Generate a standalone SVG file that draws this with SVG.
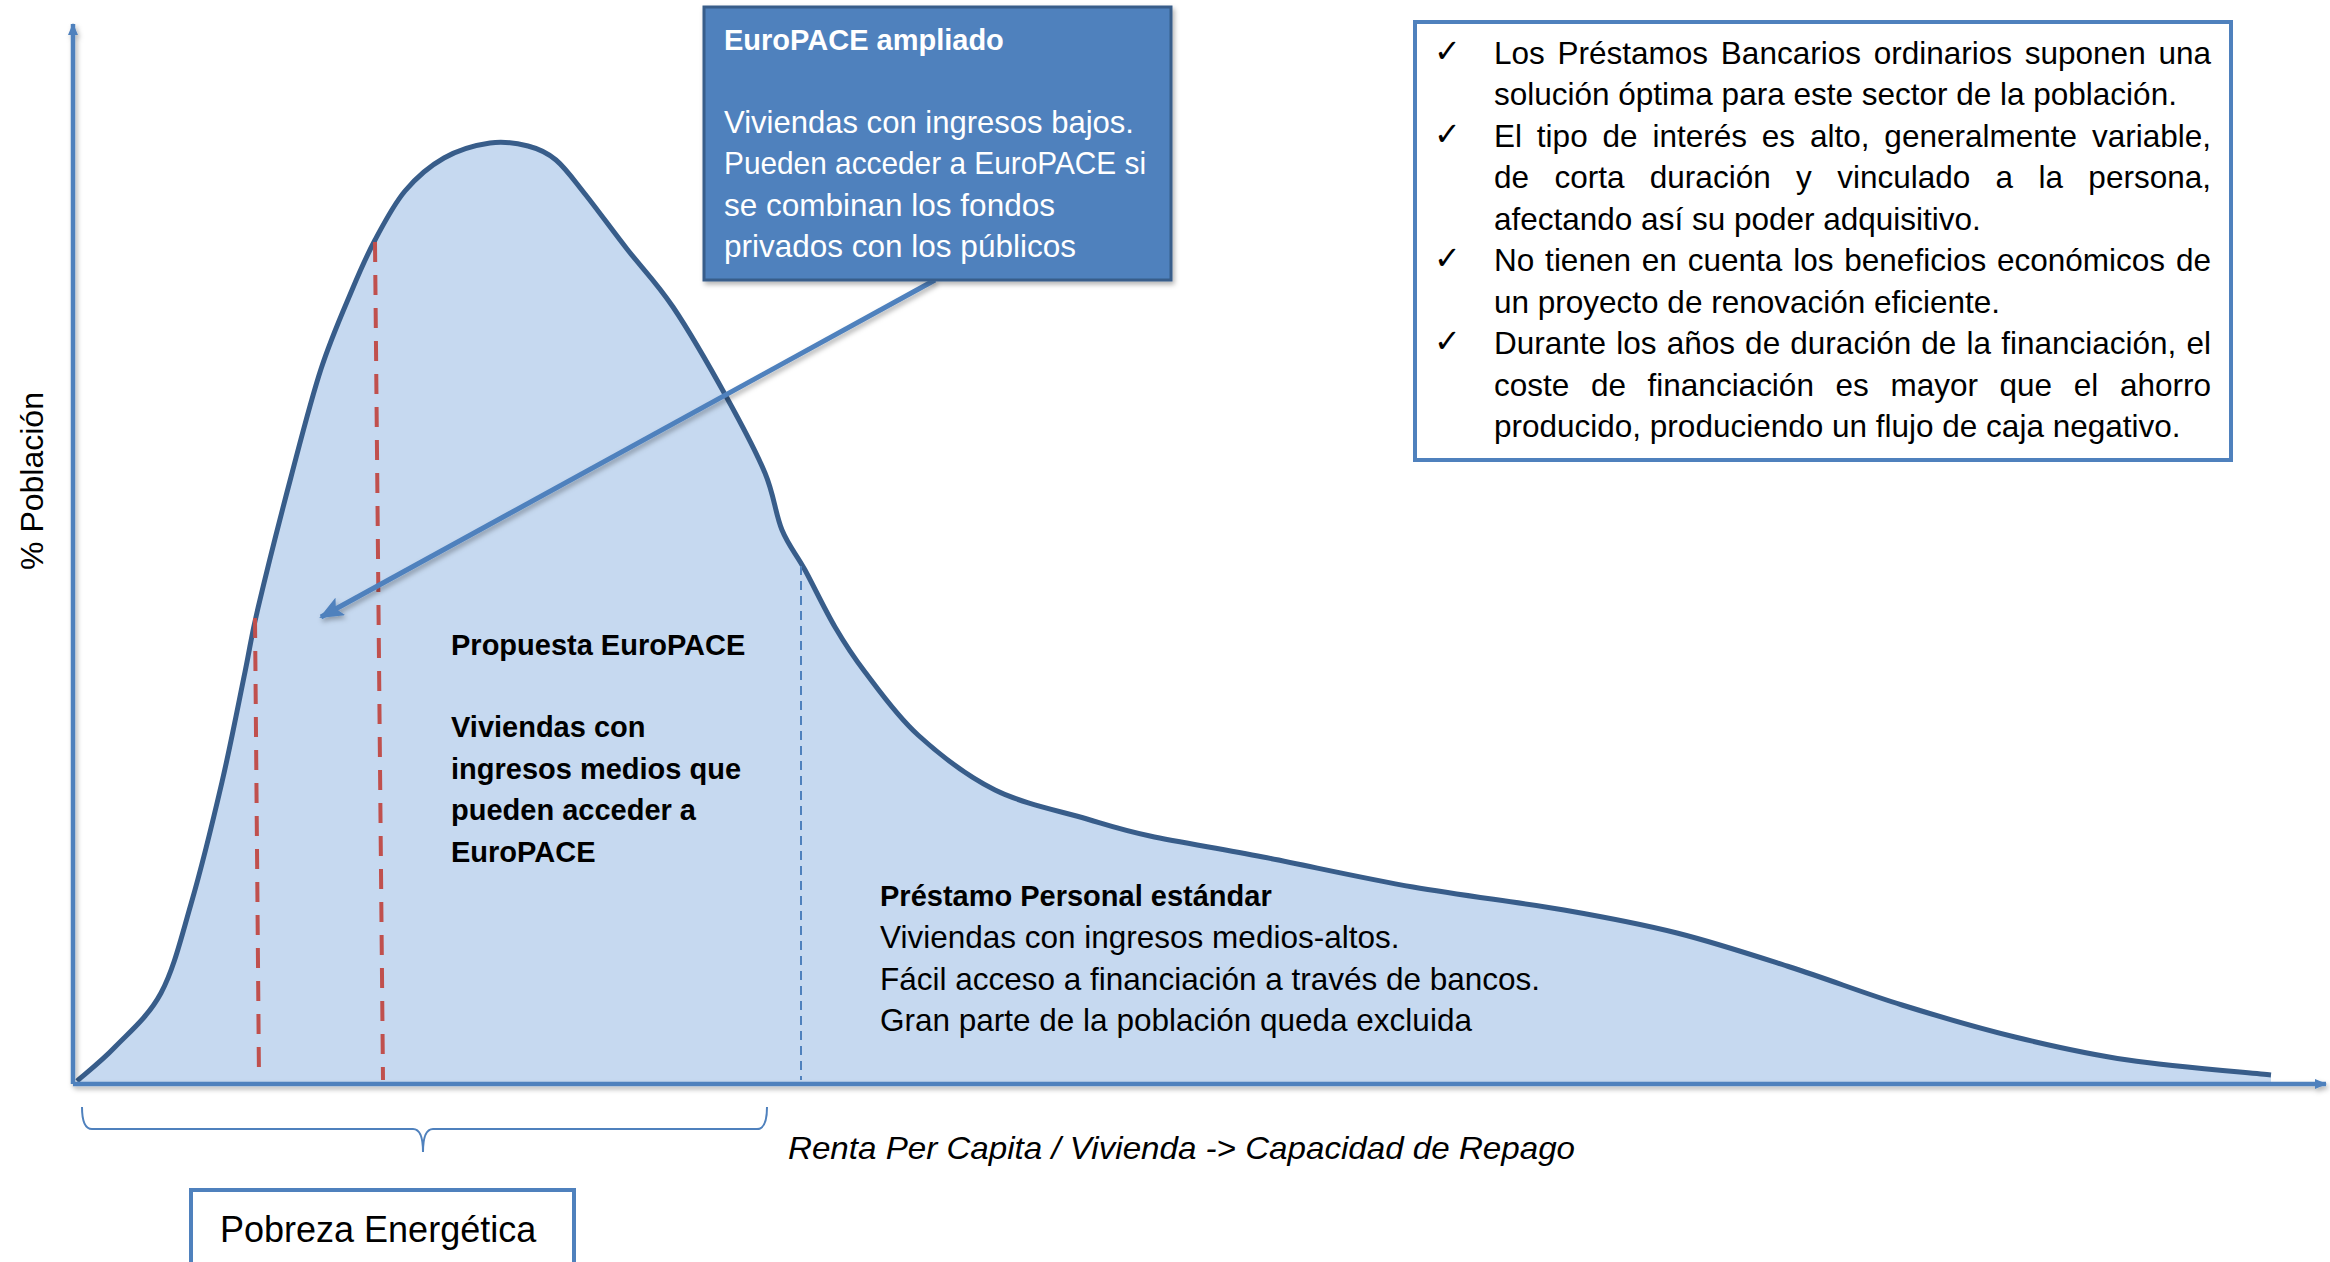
<svg xmlns="http://www.w3.org/2000/svg" width="2330" height="1262" viewBox="0 0 2330 1262">
<defs>
<style>
.t{font-family:"Liberation Sans",Arial,sans-serif;font-size:31.5px;fill:#000}
.b{font-family:"Liberation Sans",Arial,sans-serif;font-size:29px;font-weight:bold;fill:#000}
.w{fill:#fff}
.ax{stroke:#4F81BD;stroke-width:4.5;fill:none}
.chk{font-family:"DejaVu Sans",sans-serif;font-size:32px;fill:#000}
</style>
<filter id="sh" x="-5%" y="-5%" width="110%" height="115%">
<feDropShadow dx="2" dy="3" stdDeviation="2.5" flood-color="#000" flood-opacity="0.3"/>
</filter>
<marker id="ah" markerWidth="12" markerHeight="10" refX="11" refY="5" orient="auto" markerUnits="userSpaceOnUse" viewBox="0 0 12 10">
<path d="M0,0 L12,5 L0,10 Z" fill="#4F81BD"/>
</marker>
<marker id="ah2" markerWidth="24" markerHeight="20" refX="22" refY="10" orient="auto" markerUnits="userSpaceOnUse" viewBox="0 0 24 20">
<path d="M0,0 L24,10 L0,20 L5,10 Z" fill="#4F81BD"/>
</marker>
</defs>
<rect width="2330" height="1262" fill="#fff"/>

<g id="curve">
<path d="M77,1081 C83.3,1075.3 101,1061.7 115,1047 C129,1032.3 148.3,1016.8 161,993 C173.7,969.2 180.8,939.2 191,904 C201.2,868.8 213,820.7 222,782 C231,743.3 239,701 245,672 C251,643 250.3,640.5 258,608 C265.7,575.5 280.5,516.8 291,477 C301.5,437.2 310.8,400.2 321,369 C331.2,337.8 343,311.5 352,290 C361,268.5 366.2,256.5 375,240 C383.8,223.5 393.5,204.7 405,191 C416.5,177.3 429.8,166 444,158 C458.2,150 476,145 490,143 C504,141 517,143.2 528,146 C539,148.8 546.5,152 556,160 C565.5,168 573.2,179.2 585,194 C596.8,208.8 612.3,230.2 627,249 C641.7,267.8 656.3,282.2 673,307 C689.7,331.8 711.7,370.3 727,398 C742.3,425.7 755.8,451 765,473 C774.2,495 775.3,513.8 782,530 C788.7,546.2 796.2,553.8 805,570 C813.8,586.2 825,610 835,627 C845,644 851.2,654 865,672 C878.8,690 896.3,715.3 918,735 C939.7,754.7 966.8,776 995,790 C1023.2,804 1061.2,811.3 1087,819 C1112.8,826.7 1120.7,829.7 1150,836 C1179.3,842.3 1219.2,848.5 1263,857 C1306.8,865.5 1362.8,878.2 1413,887 C1463.2,895.8 1520,902.3 1564,910 C1608,917.7 1639.3,923.5 1677,933 C1714.7,942.5 1752.5,955 1790,967 C1827.5,979 1864.5,993.3 1902,1005 C1939.5,1016.7 1977.3,1027.8 2015,1037 C2052.7,1046.2 2085.3,1053.7 2128,1060 C2170.7,1066.3 2247.2,1072.5 2271,1075 L2271,1082 L77,1082 Z" fill="#C6D9F0" stroke="none"/>
<path d="M77,1081 C83.3,1075.3 101,1061.7 115,1047 C129,1032.3 148.3,1016.8 161,993 C173.7,969.2 180.8,939.2 191,904 C201.2,868.8 213,820.7 222,782 C231,743.3 239,701 245,672 C251,643 250.3,640.5 258,608 C265.7,575.5 280.5,516.8 291,477 C301.5,437.2 310.8,400.2 321,369 C331.2,337.8 343,311.5 352,290 C361,268.5 366.2,256.5 375,240 C383.8,223.5 393.5,204.7 405,191 C416.5,177.3 429.8,166 444,158 C458.2,150 476,145 490,143 C504,141 517,143.2 528,146 C539,148.8 546.5,152 556,160 C565.5,168 573.2,179.2 585,194 C596.8,208.8 612.3,230.2 627,249 C641.7,267.8 656.3,282.2 673,307 C689.7,331.8 711.7,370.3 727,398 C742.3,425.7 755.8,451 765,473 C774.2,495 775.3,513.8 782,530 C788.7,546.2 796.2,553.8 805,570 C813.8,586.2 825,610 835,627 C845,644 851.2,654 865,672 C878.8,690 896.3,715.3 918,735 C939.7,754.7 966.8,776 995,790 C1023.2,804 1061.2,811.3 1087,819 C1112.8,826.7 1120.7,829.7 1150,836 C1179.3,842.3 1219.2,848.5 1263,857 C1306.8,865.5 1362.8,878.2 1413,887 C1463.2,895.8 1520,902.3 1564,910 C1608,917.7 1639.3,923.5 1677,933 C1714.7,942.5 1752.5,955 1790,967 C1827.5,979 1864.5,993.3 1902,1005 C1939.5,1016.7 1977.3,1027.8 2015,1037 C2052.7,1046.2 2085.3,1053.7 2128,1060 C2170.7,1066.3 2247.2,1072.5 2271,1075" fill="none" stroke="#385D8A" stroke-width="5" stroke-linejoin="round"/>
</g>

<g id="dividers">
<line x1="255" y1="618" x2="259" y2="1080" stroke="#C0504D" stroke-width="4" stroke-dasharray="20 13"/>
<line x1="375" y1="242" x2="383" y2="1080" stroke="#C0504D" stroke-width="4" stroke-dasharray="20 13"/>
<line x1="801" y1="566" x2="801" y2="1080" stroke="#4F81BD" stroke-width="2" stroke-dasharray="9 6"/>
</g>

<g id="axes" filter="url(#sh)">
<line class="ax" x1="73" y1="1084" x2="73" y2="24" marker-end="url(#ah)"/>
<line class="ax" x1="73" y1="1084" x2="2326" y2="1084" marker-end="url(#ah)"/>
</g>

<g id="connectors">
<line x1="935" y1="280" x2="321" y2="617" stroke="#4F81BD" stroke-width="5" marker-end="url(#ah2)" filter="url(#sh)"/>
</g>

<g id="y-label">
<text class="t" transform="translate(43,481) rotate(-90)" text-anchor="middle" style="font-size:32px">% Población</text>
</g>

<g id="x-label">
<text class="t" x="788" y="1159" font-style="italic" style="font-size:32px" textLength="787" lengthAdjust="spacingAndGlyphs">Renta Per Capita / Vivienda -&gt; Capacidad de Repago</text>
</g>

<g id="europace-ampliado">
<rect x="704" y="7" width="467" height="273" fill="#4F81BD" stroke="#385D8A" stroke-width="3" filter="url(#sh)"/>
<text class="b w" x="724" y="50">EuroPACE ampliado</text>
<text class="t w" x="724" y="133" textLength="410" lengthAdjust="spacingAndGlyphs">Viviendas con ingresos bajos.</text>
<text class="t w" x="724" y="174" textLength="422" lengthAdjust="spacingAndGlyphs">Pueden acceder a EuroPACE si</text>
<text class="t w" x="724" y="216">se combinan los fondos</text>
<text class="t w" x="724" y="257">privados con los públicos</text>
</g>

<g id="bank-loans-box">
<rect x="1415" y="22" width="816" height="438" fill="#fff" stroke="#4F81BD" stroke-width="4"/>
<text class="chk" x="1434" y="62">✓</text>
<text class="chk" x="1434" y="145">✓</text>
<text class="chk" x="1434" y="269">✓</text>
<text class="chk" x="1434" y="352">✓</text>
<text class="t" x="1494" y="64" word-spacing="4" textLength="717" lengthAdjust="spacing">Los Préstamos Bancarios ordinarios suponen una</text>
<text class="t" x="1494" y="105">solución óptima para este sector de la población.</text>
<text class="t" x="1494" y="147" word-spacing="6.1" textLength="717" lengthAdjust="spacing">El tipo de interés es alto, generalmente variable,</text>
<text class="t" x="1494" y="188" word-spacing="16.6" textLength="717" lengthAdjust="spacing">de corta duración y vinculado a la persona,</text>
<text class="t" x="1494" y="230">afectando así su poder adquisitivo.</text>
<text class="t" x="1494" y="271" word-spacing="2.1" textLength="717" lengthAdjust="spacing">No tienen en cuenta los beneficios económicos de</text>
<text class="t" x="1494" y="313">un proyecto de renovación eficiente.</text>
<text class="t" x="1494" y="354" word-spacing="1.4" textLength="717" lengthAdjust="spacing">Durante los años de duración de la financiación, el</text>
<text class="t" x="1494" y="396" word-spacing="12.9" textLength="717" lengthAdjust="spacing">coste de financiación es mayor que el ahorro</text>
<text class="t" x="1494" y="437">producido, produciendo un flujo de caja negativo.</text>
</g>

<g id="propuesta-europace">
<text class="b" x="451" y="655">Propuesta EuroPACE</text>
<text class="b" x="451" y="737">Viviendas con</text>
<text class="b" x="451" y="779">ingresos medios que</text>
<text class="b" x="451" y="820">pueden acceder a</text>
<text class="b" x="451" y="862">EuroPACE</text>
</g>

<g id="prestamo-personal">
<text class="b" x="880" y="906">Préstamo Personal estándar</text>
<text class="t" x="880" y="948">Viviendas con ingresos medios-altos.</text>
<text class="t" x="880" y="990">Fácil acceso a financiación a través de bancos.</text>
<text class="t" x="880" y="1031">Gran parte de la población queda excluida</text>
</g>

<g id="brace">
<path d="M82,1107 Q82,1129 92,1129 L413,1129 Q423,1129 423,1152 Q423,1129 433,1129 L757,1129 Q767,1129 767,1107" fill="none" stroke="#4F81BD" stroke-width="2"/>
</g>

<g id="pobreza-energetica">
<rect x="191" y="1190" width="383" height="82" fill="#fff" stroke="#4F81BD" stroke-width="4"/>
<text class="t" x="220" y="1242" style="font-size:36px">Pobreza Energética</text>
</g>
</svg>
